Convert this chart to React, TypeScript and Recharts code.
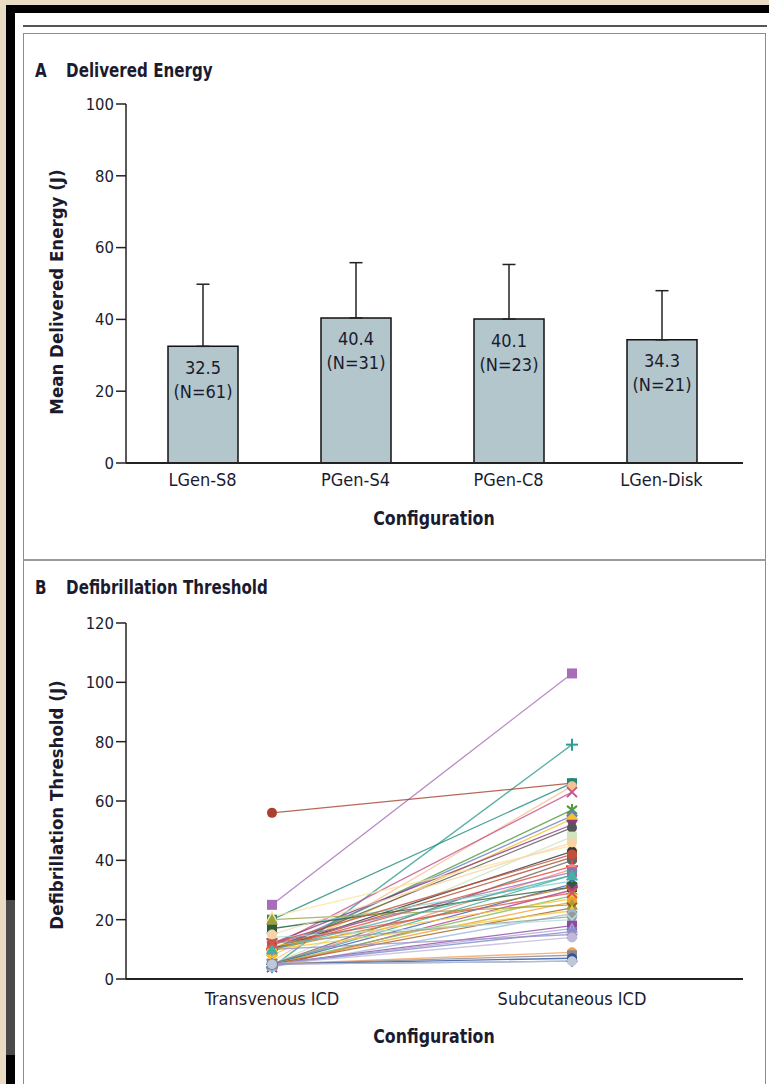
import React from 'react';
import { BarChart, Bar, XAxis, YAxis, ErrorBar, LabelList, LineChart, Line } from 'recharts';

// Panel A - delivered energy by configuration
const CONFIGS = ['LGen-S8', 'PGen-S4', 'PGen-C8', 'LGen-Disk'];
const MEAN_ENERGY = [32.5, 40.4, 40.1, 34.3];
const ENERGY_SD = [17.3, 15.4, 15.2, 13.7];
const N_PATIENTS = [61, 31, 23, 21];
const ENERGY_TICKS = [0, 20, 40, 60, 80, 100];

// Panel B - paired defibrillation thresholds, one entry per patient
const DEVICES = ['Transvenous ICD', 'Subcutaneous ICD'];
const TRANSVENOUS = [25, 4, 56, 20, 6, 11, 9, 10, 8, 12, 10, 5, 21, 10, 10, 5, 10, 5, 12, 5, 17, 5, 10, 17, 4, 5, 11, 5, 20, 5, 10, 4, 12, 14, 5, 5, 5, 10, 5, 5, 5, 5, 5, 5, 12, 10, 12, 15];
const SUBCUTANEOUS = [103, 79, 66, 66, 65, 63, 57, 55, 54, 52, 51, 48, 45, 43, 41, 40, 38, 37, 36, 35, 33, 32, 31, 31, 30, 28, 27, 26, 25, 24, 23, 22, 21, 20, 18, 17, 16, 15, 14, 9, 8, 7, 6, 6, 42, 35, 29, 46];
const LINE_COLORS = [
  '#A86DB8', '#2F9E92', '#A8412E', '#1F8A7A', '#F5C18F', '#C4558C', '#4E9A3E', '#6A7FC0',
  '#F2C230', '#8B3A7A', '#555555', '#CDE5C0', '#FBE59A', '#333333', '#B24A2A', '#666666',
  '#E5483A', '#F08C84', '#9C6AB0', '#3BA99C', '#7FD0D0', '#3E5BA8', '#B07A2A', '#2E5B3A',
  '#B23A8A', '#7DBE5A', '#F7C531', '#F0A030', '#9AA040', '#A06020', '#F2CC40', '#9ABAD8',
  '#999999', '#A8DCD8', '#8C4AA0', '#B3A0D0', '#7A8CD0', '#9C8AC8', '#C0B8D8', '#F0A060',
  '#8A8A8A', '#3050A0', '#5070B0', '#C0C8D8', '#C0503A', '#45B0A5', '#D9534F', '#F7D3A8',
];
const MARKERS = [
  'square', 'plus', 'circle', 'square', 'circle', 'x', 'star', 'diamond',
  'diamond', 'tridown', 'circle', 'square', 'tri', 'circle', 'square', 'circle',
  'plus', 'circle', 'square', 'x', 'tri', 'diamond', 'plus', 'square',
  'x', 'circle', 'square', 'circle', 'tri', 'x', 'tri', 'circle',
  'circle', 'x', 'square', 'tri', 'star', 'star', 'circle', 'circle',
  'square', 'circle', 'diamond', 'circle', 'circle', 'tri', 'x', 'circle',
];
const DFT_TICKS = [0, 20, 40, 60, 80, 100, 120];

const FONT = "'DejaVu Sans Condensed', 'Liberation Sans Narrow', 'Arial Narrow', sans-serif";
const INK = '#1b1b2f';

const energyData = CONFIGS.map((name, i) => ({
  name,
  mean: MEAN_ENERGY[i],
  err: [0, ENERGY_SD[i]],
  nLabel: `(N=${N_PATIENTS[i]})`,
}));

const dftData = DEVICES.map((device, j) => {
  const row: any = { device };
  TRANSVENOUS.forEach((tv, i) => {
    row[`p${i}`] = j === 0 ? tv : SUBCUTANEOUS[i];
  });
  return row;
});

const barText = (dy: number) => (props: any) => {
  const vb = props.viewBox ?? props;
  return (
    <text
      x={vb.x + vb.width / 2}
      y={vb.y + dy}
      textAnchor="middle"
      dominantBaseline="central"
      fill={INK}
      fontFamily={FONT}
      fontSize={18}
    >
      {props.value}
    </text>
  );
};

const Marker = ({ cx, cy, shape, color }: any) => {
  if (cx == null || cy == null) return null;
  const s = 5;
  switch (shape) {
    case 'square':
      return <rect x={cx - s} y={cy - s} width={s * 2} height={s * 2} fill={color} />;
    case 'circle':
      return <circle cx={cx} cy={cy} r={s} fill={color} />;
    case 'plus':
      return (
        <g stroke={color} strokeWidth={2}>
          <line x1={cx - 6} y1={cy} x2={cx + 6} y2={cy} />
          <line x1={cx} y1={cy - 6} x2={cx} y2={cy + 6} />
        </g>
      );
    case 'x':
      return (
        <g stroke={color} strokeWidth={2}>
          <line x1={cx - 5} y1={cy - 5} x2={cx + 5} y2={cy + 5} />
          <line x1={cx - 5} y1={cy + 5} x2={cx + 5} y2={cy - 5} />
        </g>
      );
    case 'star':
      return (
        <g stroke={color} strokeWidth={2}>
          <line x1={cx} y1={cy - 6} x2={cx} y2={cy + 6} />
          <line x1={cx - 5} y1={cy - 4} x2={cx + 5} y2={cy + 4} />
          <line x1={cx - 5} y1={cy + 4} x2={cx + 5} y2={cy - 4} />
        </g>
      );
    case 'tri':
      return <polygon points={`${cx},${cy - 6} ${cx + 6},${cy + 5} ${cx - 6},${cy + 5}`} fill={color} />;
    case 'tridown':
      return <polygon points={`${cx},${cy + 6} ${cx + 6},${cy - 5} ${cx - 6},${cy - 5}`} fill={color} />;
    case 'diamond':
      return <polygon points={`${cx},${cy - 6} ${cx + 6},${cy} ${cx},${cy + 6} ${cx - 6},${cy}`} fill={color} />;
    default:
      return <circle cx={cx} cy={cy} r={s} fill={color} />;
  }
};

const xTickStyle = { fill: INK, fontSize: 18, fontFamily: FONT };
const yTickStyle = { fill: INK, fontSize: 16.5, fontFamily: FONT };

const abs = (style: React.CSSProperties): React.CSSProperties => ({ position: 'absolute', ...style });

const Title = ({ letter, text, top }: { letter: string; text: string; top: number }) => (
  <div
    style={abs({
      left: 35,
      top,
      fontFamily: FONT,
      fontWeight: 'bold',
      fontSize: 20,
      color: INK,
      whiteSpace: 'nowrap',
      lineHeight: 1,
      transform: 'scaleX(0.84)',
      transformOrigin: 'left center',
    })}
  >
    <span style={{ display: 'inline-block', width: 37 }}>{letter}</span>
    {text}
  </div>
);

const VLabel = ({ text, cx, cy }: { text: string; cx: number; cy: number }) => (
  <div
    style={abs({
      left: cx,
      top: cy,
      transform: 'translate(-50%, -50%) rotate(-90deg)',
      fontFamily: FONT,
      fontWeight: 'bold',
      fontSize: 18.5,
      color: INK,
      whiteSpace: 'nowrap',
      lineHeight: 1,
    })}
  >
    {text}
  </div>
);

const HLabel = ({ text, cx, cy }: { text: string; cx: number; cy: number }) => (
  <div
    style={abs({
      left: cx,
      top: cy,
      transform: 'translate(-50%, -50%) scaleX(0.9)',
      fontFamily: FONT,
      fontWeight: 'bold',
      fontSize: 19.5,
      color: INK,
      whiteSpace: 'nowrap',
      lineHeight: 1,
    })}
  >
    {text}
  </div>
);

export default function App() {
  return (
    <div style={abs({ left: 0, top: 0, width: 769, height: 1084, background: '#EADCC2', overflow: 'hidden' })}>
      {/* dark frame around the page */}
      <div style={abs({ left: 6, top: 5, right: 0, bottom: 0, background: '#000' })} />
      <div style={abs({ left: 6, top: 900, width: 9, height: 155, background: '#4a4a4a' })} />
      <div style={abs({ left: 15, top: 13, right: 0, bottom: 0, background: '#fff' })} />
      <div style={abs({ left: 23, top: 25, right: 2, height: 2, background: '#555' })} />
      <div style={abs({ left: 23, top: 33, width: 741, height: 1100, border: '1.5px solid #8c8c8c' })} />
      <div style={abs({ left: 23, top: 559, width: 743, height: 1.5, background: '#9a9a9a' })} />

      <Title letter="A" text="Delivered Energy" top={60} />
      <Title letter="B" text="Defibrillation Threshold" top={577} />

      <VLabel text="Mean Delivered Energy (J)" cx={57} cy={292} />
      <VLabel text="Defibrillation Threshold (J)" cx={57} cy={805} />
      <HLabel text="Configuration" cx={434} cy={519} />
      <HLabel text="Configuration" cx={434} cy={1037} />

      <div style={abs({ left: 0, top: 0 })}>
        <BarChart width={769} height={560} data={energyData} margin={{ top: 104, right: 26, bottom: 67, left: 0 }}>
          <XAxis
            dataKey="name"
            height={30}
            tickLine={false}
            tickMargin={4}
            padding={{ left: 0, right: 5 }}
            axisLine={{ stroke: '#222', strokeWidth: 2 }}
            tick={xTickStyle}
            interval={0}
          />
          <YAxis
            width={126}
            domain={[0, 100]}
            ticks={ENERGY_TICKS}
            tickSize={10}
            tickMargin={2}
            axisLine={{ stroke: '#222', strokeWidth: 1.5 }}
            tickLine={{ stroke: '#222', strokeWidth: 1.5 }}
            tick={yTickStyle}
            interval={0}
          />
          <Bar dataKey="mean" barSize={70} fill="#B2C6CC" stroke="#111" strokeWidth={1.5} isAnimationActive={false}>
            <ErrorBar dataKey="err" direction="y" width={6.5} stroke="#222" strokeWidth={1.5} />
            <LabelList dataKey="mean" content={barText(21)} />
            <LabelList dataKey="nLabel" content={barText(45)} />
          </Bar>
        </BarChart>
      </div>

      <div style={abs({ left: 0, top: 560 })}>
        <LineChart width={769} height={524} data={dftData} margin={{ top: 63, right: 26, bottom: 75, left: 0 }}>
          <XAxis
            dataKey="device"
            scale="point"
            height={30}
            tickLine={false}
            tickMargin={7}
            padding={{ left: 146, right: 171 }}
            axisLine={{ stroke: '#222', strokeWidth: 2 }}
            tick={xTickStyle}
            interval={0}
          />
          <YAxis
            width={126}
            domain={[0, 120]}
            ticks={DFT_TICKS}
            tickSize={10}
            tickMargin={2}
            axisLine={{ stroke: '#222', strokeWidth: 1.5 }}
            tickLine={{ stroke: '#222', strokeWidth: 1.5 }}
            tick={yTickStyle}
            interval={0}
          />
          {TRANSVENOUS.map((_, i) => (
            <Line
              key={`p${i}`}
              dataKey={`p${i}`}
              stroke={LINE_COLORS[i]}
              strokeWidth={1.3}
              strokeOpacity={0.8}
              activeDot={false}
              isAnimationActive={false}
              dot={(p: any) => (
                <Marker key={`m${i}-${p.index}`} cx={p.cx} cy={p.cy} shape={MARKERS[i]} color={LINE_COLORS[i]} />
              )}
            />
          ))}
        </LineChart>
      </div>
    </div>
  );
}
